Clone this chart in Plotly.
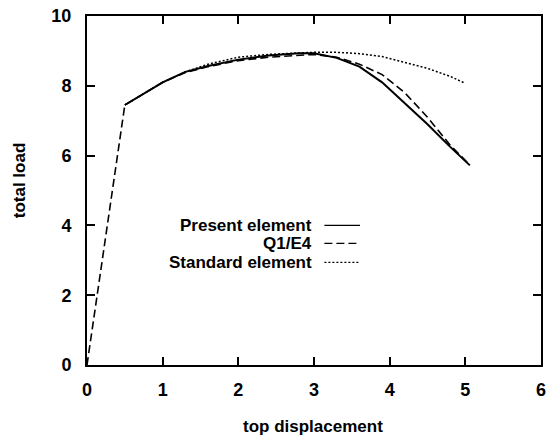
import plotly.graph_objects as go

# Data
present_x = [0.5, 0.8, 1.0, 1.3, 1.6, 2.0, 2.4, 2.8, 3.0, 3.3, 3.6, 3.9, 4.2, 4.5, 4.8, 5.06]
present_y = [7.45, 7.85, 8.1, 8.4, 8.57, 8.75, 8.87, 8.93, 8.93, 8.8, 8.55, 8.1, 7.5, 6.9, 6.25, 5.72]

q1e4_x = [0, 0.5, 1.0, 1.3, 1.6, 2.0, 2.4, 2.8, 3.0, 3.3, 3.6, 3.9, 4.2, 4.5, 4.8, 5.05]
q1e4_y = [0, 7.45, 8.1, 8.38, 8.55, 8.72, 8.82, 8.86, 8.9, 8.82, 8.62, 8.32, 7.8, 7.1, 6.3, 5.75]

std_x = [0.5, 1.0, 1.3, 1.6, 2.0, 2.4, 2.8, 3.0, 3.3, 3.6, 3.9, 4.2, 4.5, 4.8, 5.0]
std_y = [7.45, 8.1, 8.4, 8.62, 8.82, 8.9, 8.94, 8.96, 8.96, 8.92, 8.84, 8.68, 8.5, 8.27, 8.07]

series_names = ["Present element", "Q1/E4", "Standard element"]
x_ticks = [0, 1, 2, 3, 4, 5, 6]
y_ticks = [0, 2, 4, 6, 8, 10]

FONT = "Liberation Sans, Arial, sans-serif"
W, H = 552, 440
ML, MR, MT, MB = 87, 6, 15, 75
PW, PH = W - ML - MR, H - MT - MB

def px(xp):
    return (xp - ML) / PW

def py(yp):
    return (H - MB - yp) / PH

def bold(s):
    return "<b>" + s + "</b>"

styles = [dict(color="black", width=2, dash="solid"),
          dict(color="black", width=1.6, dash="8px,4px"),
          dict(color="black", width=1.5, dash="2px,2px")]

fig = go.Figure()
for (xs, ys), name, st in zip([(present_x, present_y), (q1e4_x, q1e4_y), (std_x, std_y)], series_names, styles):
    fig.add_trace(go.Scatter(x=xs, y=ys, mode="lines", name=name, line=st, showlegend=False))

axis_common = dict(showgrid=False, zeroline=False, showline=True, linecolor="black", linewidth=2,
                   mirror="ticks", ticks="inside", ticklen=8, tickwidth=2, tickcolor="black",
                   tickfont=dict(family=FONT, size=18, color="black"))

fig.update_xaxes(range=[0, 6], tickvals=x_ticks, ticktext=[bold(str(v)) for v in x_ticks],
                 ticklabelstandoff=7, **axis_common)
fig.update_yaxes(range=[0, 10], tickvals=y_ticks, ticktext=[bold(str(v)) for v in y_ticks],
                 ticklabelstandoff=10, **axis_common)

annotations = [
    dict(text=bold("top displacement"), x=px(315), y=py(427), xref="paper", yref="paper",
         showarrow=False, font=dict(family=FONT, size=17, color="black"), xanchor="center", yanchor="middle"),
    dict(text=bold("total load"), x=px(19), y=py(180), xref="paper", yref="paper", textangle=-90,
         showarrow=False, font=dict(family=FONT, size=17, color="black"), xanchor="center", yanchor="middle"),
]
shapes = []
legend_rows = [225, 243, 262]
for name, st, yr in zip(series_names, styles, legend_rows):
    annotations.append(dict(text=bold(name), x=px(317), y=py(yr), xref="paper", yref="paper", showarrow=False,
                            font=dict(family=FONT, size=17, color="black"), xanchor="right", yanchor="middle"))
    shapes.append(dict(type="line", xref="paper", yref="paper", x0=px(327), x1=px(363), y0=py(yr), y1=py(yr),
                       line=dict(color="black", width=1.3, dash=st["dash"])))

fig.update_layout(width=W, height=H, margin=dict(l=ML, r=MR, t=MT, b=MB),
                  plot_bgcolor="white", paper_bgcolor="white",
                  annotations=annotations, shapes=shapes, showlegend=False)

fig.write_html("out.html")
